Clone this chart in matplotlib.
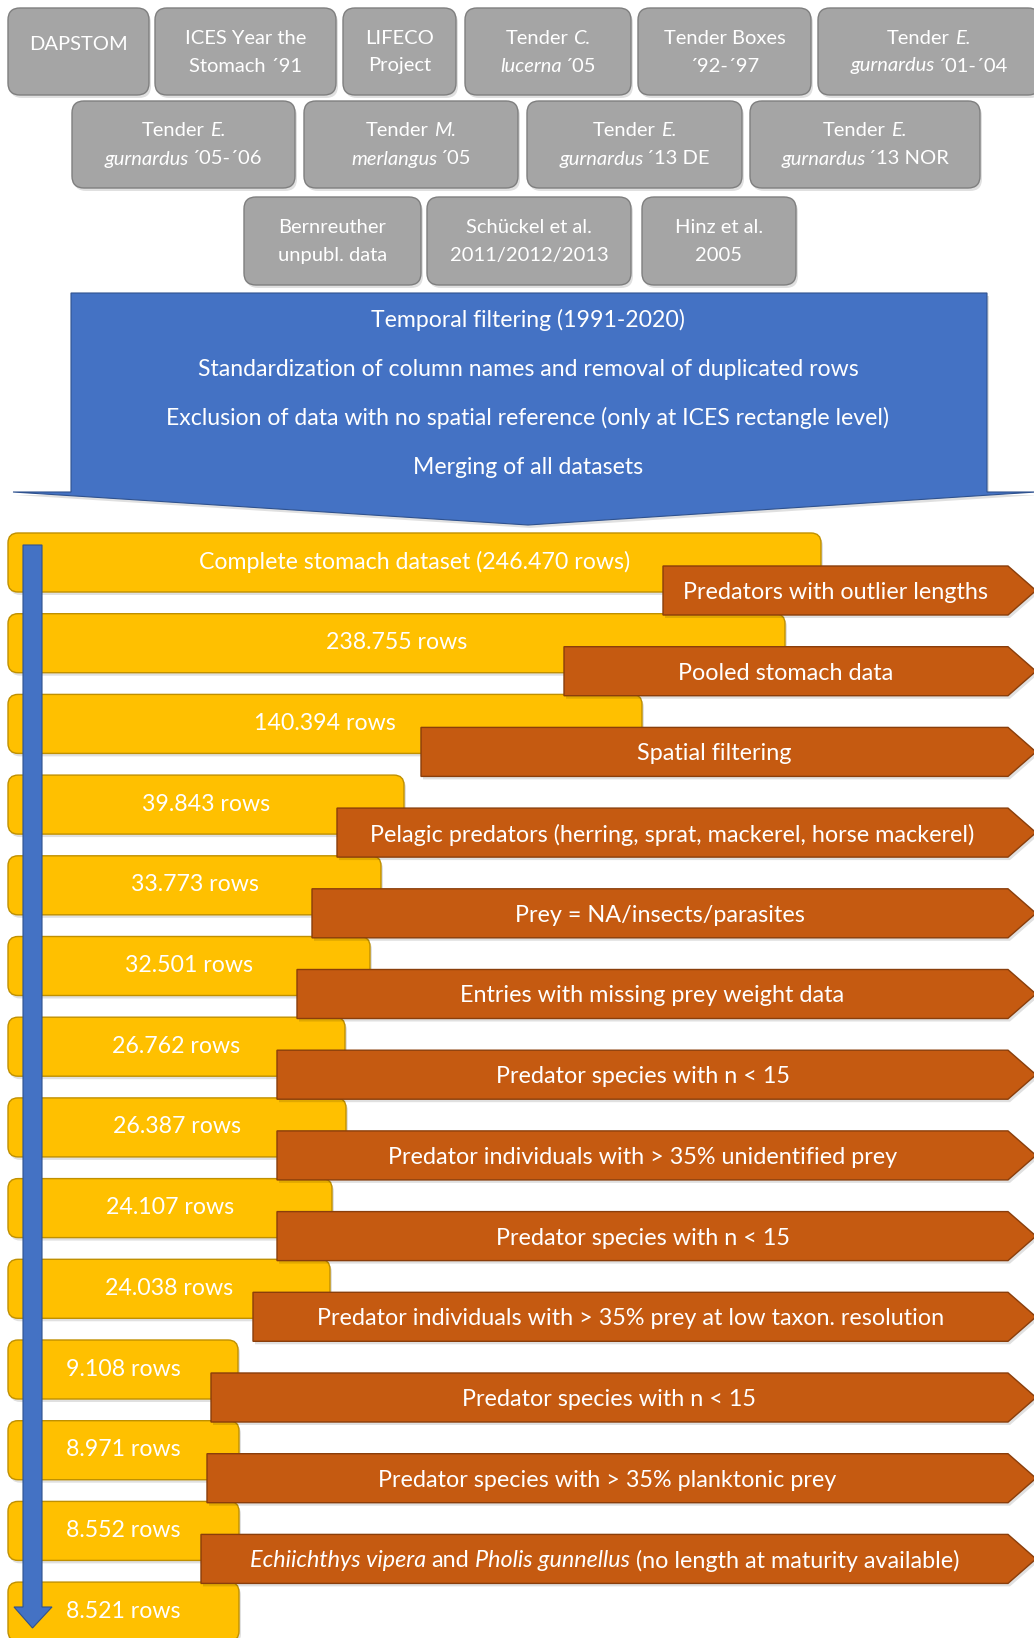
import matplotlib
matplotlib.use('Agg')
import matplotlib.pyplot as plt
from matplotlib.patches import FancyBboxPatch, Polygon

# ---------------- data ----------------
source_row1 = ["DAPSTOM", "ICES Year the\nStomach ´91", "LIFECO\nProject",
               "Tender *C.*\n*lucerna* ´05", "Tender Boxes\n´92-´97",
               "Tender *E.*\n*gurnardus* ´01-´04"]
source_row2 = ["Tender *E.*\n*gurnardus* ´05-´06", "Tender *M.*\n*merlangus* ´05",
               "Tender *E.*\n*gurnardus* ´13 DE", "Tender *E.*\n*gurnardus* ´13 NOR"]
source_row3 = ["Bernreuther\nunpubl. data", "Schückel et al.\n2011/2012/2013",
               "Hinz et al.\n2005"]

processing_steps = ["Temporal filtering (1991-2020)",
                    "Standardization of column names and removal of duplicated rows",
                    "Exclusion of data with no spatial reference (only at ICES rectangle level)",
                    "Merging of all datasets"]

row_counts = ["Complete stomach dataset (246.470 rows)", "238.755 rows", "140.394 rows",
              "39.843 rows", "33.773 rows", "32.501 rows", "26.762 rows", "26.387 rows",
              "24.107 rows", "24.038 rows", "9.108 rows", "8.971 rows", "8.552 rows",
              "8.521 rows"]

exclusions = ["Predators with outlier lengths", "Pooled stomach data", "Spatial filtering",
              "Pelagic predators (herring, sprat, mackerel, horse mackerel)",
              "Prey = NA/insects/parasites", "Entries with missing prey weight data",
              "Predator species with n < 15",
              "Predator individuals with > 35% unidentified prey",
              "Predator species with n < 15",
              "Predator individuals with > 35% prey at low taxon. resolution",
              "Predator species with n < 15",
              "Predator species with > 35% planktonic prey",
              "*Echiichthys vipera* and *Pholis gunnellus* (no length at maturity available)"]

# ---------------- layout (pixels) ----------------
row1_x = [(8, 149), (155, 336), (343, 456), (465, 631), (638, 811), (818, 1040)]
row2_x = [(72, 295), (304, 518), (527, 742), (750, 980)]
row3_x = [(244, 421), (427, 631), (642, 796)]
row_y = [(8, 95), (101, 188), (197, 285)]
bar_right = [821, 785, 642, 404, 381, 370, 345, 346, 332, 330, 238, 239, 239, 239]
arrow_left = [663, 564, 421, 337, 312, 297, 277, 277, 277, 253, 211, 207, 201]

W, H = 1034, 1638
FONT = ['Lato', 'DejaVu Sans']
GRAY, GRAY_E = '#A5A5A5', '#7F7F7F'
BLUE, BLUE_E = '#4472C4', '#2F528F'
YEL, YEL_E = '#FFC000', '#C09000'
ORA, ORA_E = '#C55A11', '#8A3E0B'

fig = plt.figure(figsize=(W / 100, H / 100), dpi=100)
ax = fig.add_axes([0, 0, 1, 1])
ax.set_xlim(0, W)
ax.set_ylim(H, 0)
ax.axis('off')
renderer = fig.canvas.get_renderer()


def measure(s, italic, size):
    t = ax.text(0, 0, s, fontsize=size, family=FONT,
                fontstyle='italic' if italic else 'normal')
    w = t.get_window_extent(renderer).width
    t.remove()
    return w


def space_width(size):
    return measure('| |', False, size) - measure('||', False, size)


def parse(markup):
    parts = markup.split('*')
    return [(p, i % 2 == 1) for i, p in enumerate(parts) if p]


def rich_text(x, y, markup, size, color='white', z=10):
    segs = parse(markup)
    sw = space_width(size)
    items = []
    total = 0
    prev_italic = False
    for s, it in segs:
        lead = len(s) - len(s.lstrip(' '))
        trail = len(s) - len(s.rstrip(' '))
        core = s.strip(' ')
        cw = measure(core, it, size) if core else 0
        factor = 1.0
        if prev_italic:
            factor = 0.45 if core.startswith('´') else 0.9
        lw = lead * sw * factor
        tw = trail * sw
        items.append((lw, core, it, cw, tw))
        total += lw + cw + tw
        prev_italic = it
    cx = x - total / 2
    for lw, core, it, cw, tw in items:
        cx += lw
        if core:
            ax.text(cx, y, core, ha='left', va='center', fontsize=size,
                    family=FONT, fontstyle='italic' if it else 'normal',
                    color=color, zorder=z)
        cx += cw + tw


def rbox(x0, y0, x1, y1, fc, ec, r, z, shadow=True):
    if shadow:
        ax.add_patch(FancyBboxPatch((x0 + r + 2, y0 + r + 3), x1 - x0 - 2 * r, y1 - y0 - 2 * r,
                                    boxstyle=f'round,pad={r}', fc='#000000', ec='none',
                                    alpha=0.12, zorder=z - 0.5))
    ax.add_patch(FancyBboxPatch((x0 + r, y0 + r), x1 - x0 - 2 * r, y1 - y0 - 2 * r,
                                boxstyle=f'round,pad={r}', fc=fc, ec=ec, lw=1.0, zorder=z))


# ---------------- source boxes ----------------
for labels, xs, (y0, y1) in zip([source_row1, source_row2, source_row3],
                                [row1_x, row2_x, row3_x], row_y):
    for lab, (x0, x1) in zip(labels, xs):
        rbox(x0, y0, x1, y1, GRAY, GRAY_E, 12, 2)
        lines = lab.split('\n')
        cx = (x0 + x1) / 2
        if len(lines) == 1:
            rich_text(cx, y0 + 36, lines[0], 14.5)
        else:
            cy = (y0 + y1) / 2
            for k, ln in enumerate(lines):
                rich_text(cx, cy - 13.5 + 28 * k, ln, 14.5)

# ---------------- processing arrow ----------------
blue_poly = [(71, 293), (987, 293), (987, 492), (1036, 492), (528, 525),
             (13, 492), (71, 492)]
ax.add_patch(Polygon([(x + 2, y + 3) for x, y in blue_poly], closed=True,
                     fc='black', alpha=0.12, ec='none', zorder=1.5))
ax.add_patch(Polygon(blue_poly, closed=True, fc=BLUE, ec=BLUE_E, lw=0.8, zorder=2))
for k, step in enumerate(processing_steps):
    rich_text(528, 320 + 49 * k, step, 16.6)

# ---------------- row-count bars ----------------
bar_top0, bar_step, bar_h = 533, 80.7, 59
for i, (lab, xr) in enumerate(zip(row_counts, bar_right)):
    top = bar_top0 + i * bar_step
    rbox(8, top, xr, top + bar_h, YEL, YEL_E, 10, 3)
    rich_text((8 + xr) / 2, top + 29, lab, 16.7)

# ---------------- exclusion arrows ----------------
body_end, tip = 1008, 1036
for i, (lab, xl) in enumerate(zip(exclusions, arrow_left)):
    top = bar_top0 + i * bar_step + 33
    bot = top + 49
    mid = (top + bot) / 2
    poly = [(xl, top), (body_end, top), (tip, mid), (body_end, bot), (xl, bot)]
    ax.add_patch(Polygon([(x + 2, y + 3) for x, y in poly], closed=True,
                         fc='black', alpha=0.12, ec='none', zorder=4.5))
    ax.add_patch(Polygon(poly, closed=True, fc=ORA, ec=ORA_E, lw=1.0, zorder=5))
    rich_text((xl + body_end) / 2, mid + 2, lab, 16.8)

# ---------------- vertical flow arrow ----------------
flow = [(23, 545), (42, 545), (42, 1607), (52, 1607), (32.5, 1628), (14, 1607), (23, 1607)]
ax.add_patch(Polygon(flow, closed=True, fc=BLUE, ec=BLUE_E, lw=0.8, zorder=8))

fig.savefig('out.png', dpi=100)
